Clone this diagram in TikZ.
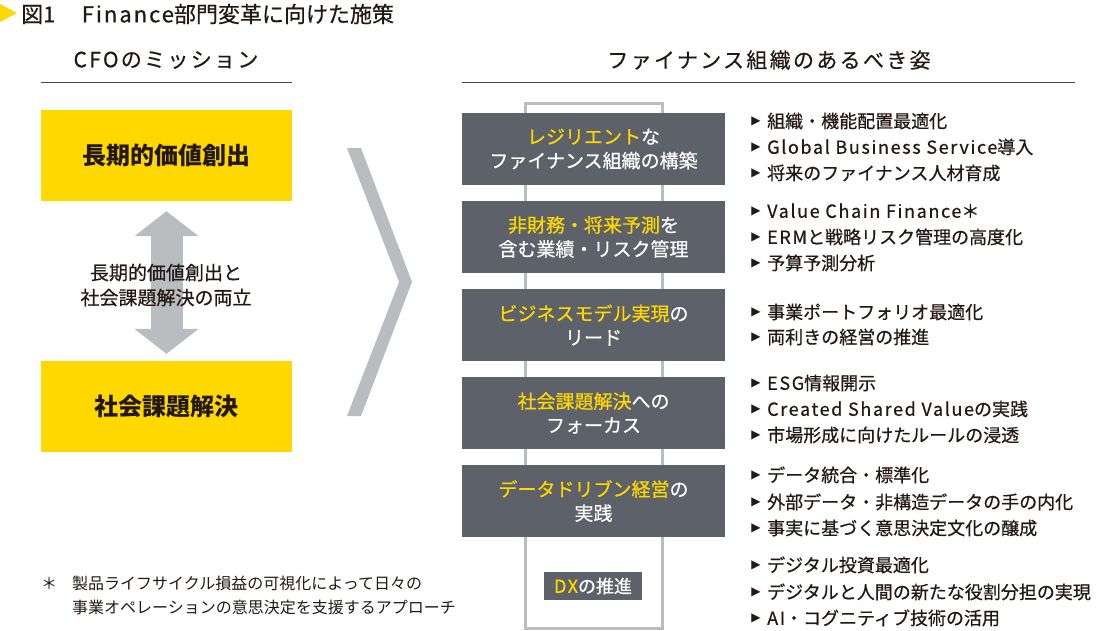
\documentclass[tikz,border=0pt]{standalone}
\usepackage{fontspec}
\setmainfont{Noto Sans CJK JP}
\newfontfamily\jpmed[FakeBold=0.5]{Noto Sans CJK JP}
\newfontfamily\jpwide[FakeBold=0.4,LetterSpace=11]{Noto Sans CJK JP}
\newfontfamily\symfont{DejaVu Sans}
\usetikzlibrary{arrows.meta}
\definecolor{eyYellow}{HTML}{FFD800}
\definecolor{boxGray}{HTML}{5D6169}
\definecolor{paleGray}{HTML}{B9BDBF}
\definecolor{ink}{HTML}{231815}
\newcommand{\setfs}[2]{\fontsize{#1}{#2}\selectfont}
\newcommand{\ylw}[1]{{\color{eyYellow}#1}}
\newcommand{\lat}[1]{{\addfontfeature{LetterSpace=9}#1}}
\tikzset{
  txt/.style={inner sep=0pt,text=ink},
  head/.style={txt,font=\jpwide\setfs{21}{25}},
  mission/.style={fill=eyYellow,minimum width=251pt,minimum height=91pt,inner sep=0pt,text=ink,font=\bfseries\setfs{24}{28}},
  policy/.style={fill=boxGray,minimum width=263pt,minimum height=72pt,inner sep=0pt,text=white,align=center,font=\jpmed\setfs{19}{24}},
  tri/.style={inner sep=0pt,text=ink,font=\symfont\setfs{12}{12}},
  item/.style={txt,anchor=west,font=\jpmed\setfs{18}{22},text height=15.8pt,text depth=2.2pt},
  dblarrow/.style={paleGray,line width=32pt,{Triangle[width=63pt,length=25pt]}-{Triangle[width=63pt,length=25pt]},shorten <=10pt,shorten >=7pt}
}
\begin{document}
\begin{tikzpicture}[x=1pt,y=-1pt]
\useasboundingbox (0,0) rectangle (1100,630);
%title
\fill[eyYellow](0,4)--(17,13)--(0,22)--cycle;
\node[txt,anchor=west,font=\jpmed\setfs{22}{26}] (title) at (21,14) {図1\hspace{1.2em}\lat{Finance}部門変革に向けた施策};
%headers
\node[head] (cfo) at (166,60) {CFOのミッション};
\draw[ink!80,line width=0.8pt](41,82)--(292,82);
\node[head] (fin) at (769,60) {ファイナンス組織のあるべき姿};
\draw[ink!80,line width=0.8pt](462,82)--(1075,82);
%left side
\node[mission] (ltv) at (166.5,155.5) {長期的価値創出};
\node[mission] (soc) at (166.5,406.5) {社会課題解決};
\draw[dblarrow] (ltv.south) -- (soc.north);
\node[txt,align=center,font=\jpmed\setfs{19}{25}] (both) at (166,285) {長期的価値創出と\\社会課題解決の両立};
%chevron
\fill[paleGray](347,148)--(361,148)--(412,282)--(361,416)--(347,416)--(399,282)--cycle;
%frame behind the boxes
\draw[paleGray,line width=3pt](525,103) rectangle (662,628);
\node[policy] (p1) at (593.5,149) {\ylw{レジリエント}な\\ファイナンス組織の構築};
\node[policy] (p2) at (593.5,237) {\ylw{非財務・将来予測}を\\含む業績・リスク管理};
\node[policy] (p3) at (593.5,325) {\ylw{ビジネスモデル実現}の\\リード};
\node[policy] (p4) at (593.5,413) {\ylw{社会課題解決}への\\フォーカス};
\node[policy] (p5) at (593.5,501) {\ylw{データドリブン経営}の\\実践};
\node[fill=boxGray,minimum width=98pt,minimum height=28pt,inner sep=0pt,text=white,font=\jpmed\setfs{18}{22}] (dx) at (593,586) {\ylw{\lat{DX}}の推進};
%bullets
\foreach \y/\t in {121/組織・機能配置最適化,147/\lat{Global Business Service}導入,173/将来のファイナンス人材育成,
  211/\lat{Value Chain Finance}＊,237/\lat{ERM}と戦略リスク管理の高度化,263/予算予測分析,
  312/事業ポートフォリオ最適化,337/両利きの経営の推進,
  383/\lat{ESG}情報開示,409/\lat{Created Shared Value}の実践,435/市場形成に向けたルールの浸透,
  475/データ統合・標準化,502/外部データ・非構造データの手の内化,528/事実に基づく意思決定文化の醸成,
  565/デジタル投資最適化,592/デジタルと人間の新たな役割分担の実現,618/\lat{AI}・コグニティブ技術の活用}
  {\node[tri] (t\y) at (756,\y) {▶};
   \node[item] (b\y) at (767,\y) {\t};}
%footnote
\node[txt,font=\setfs{16}{24}] (ast) at (49,583) {＊};
\node[txt,anchor=west,align=left,font=\setfs{16}{24}] (note) at (72,595) {製品ライフサイクル損益の可視化によって日々の\\事業オペレーションの意思決定を支援するアプローチ};
\end{tikzpicture}
\end{document}
